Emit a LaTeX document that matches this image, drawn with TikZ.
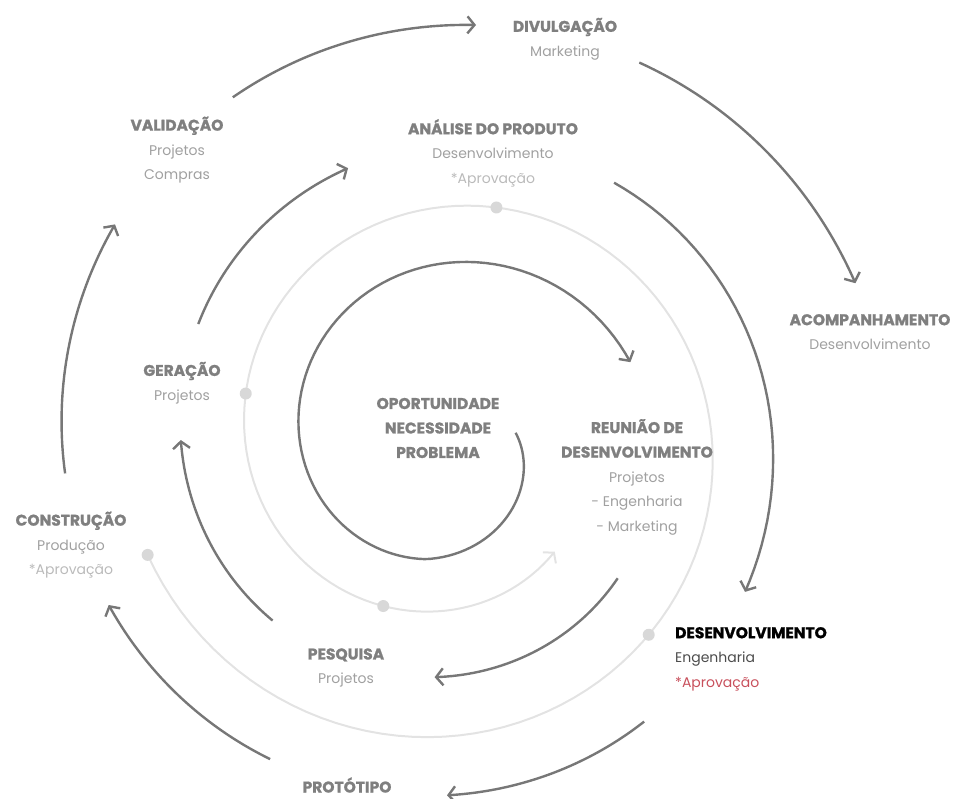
\documentclass[tikz,border=0pt]{standalone}
\usepackage{fontspec}
\setmainfont{Poppins}[BoldFeatures={FakeBold=1.2}]
\usepackage{xcolor}
\usetikzlibrary{arrows.meta}
\definecolor{stepgray}{HTML}{7F7F7F}
\definecolor{subgray}{HTML}{A0A0A0}
\definecolor{notegray}{HTML}{BABABA}
\definecolor{flowgray}{HTML}{777777}
\definecolor{backgray}{HTML}{E3E3E3}
\definecolor{dotgray}{HTML}{D8D8D8}
\definecolor{notered}{HTML}{C8505C}
\newcommand{\hd}[1]{{\fontsize{15.5}{24.5}\selectfont\bfseries\color{stepgray}#1}}
\newcommand{\nt}[1]{\textcolor{notegray}{#1}}

\begin{document}
\begin{tikzpicture}[
  x=1pt,y=-1pt,
  declare function={rd(\t)=88+0.33*\t; rl(\t)=265+0.35*\t;},
  stage/.style={align=center,font=\fontsize{14}{24.5}\selectfont,text=subgray,inner sep=0pt},
  flow/.style={draw=flowgray,line width=2.4pt,-{Straight Barb[length=7pt,width=17pt]}},
  back/.style={draw=backgray,line width=2pt,-{Straight Barb[length=7pt,width=17pt]}},
  dot/.style={fill=dotgray}
]
\useasboundingbox (0,0) rectangle (964,798);

% light feedback spiral with approval points
\draw[back] plot[domain=159:-314,samples=160] ({447+rl(\x)*cos(\x)},{440+rl(\x)*sin(\x)});
\foreach \t in {159,44,-78,-167,-249}
  \fill[dot] ({447+rl(\t)*cos(\t)},{440+rl(\t)*sin(\t)}) circle (6);

% main spiral, inner turn
\draw[flow] plot[domain=-6:337,samples=120]
  ({447+(rd(\x)-max(0,17*(100-\x)/106))*cos(\x)},{440+(rd(\x)-max(0,17*(100-\x)/106))*sin(\x)});
% main spiral, outer turns
\foreach \a/\b in {399/453,494/540,565/610,663/747,775/810,839/874,895/933,958/994,1017/1059}
  \draw[flow] plot[domain=\a:\b,samples=40] ({447+rd(\x)*cos(\x)},{440+rd(\x)*sin(\x)});

\node[stage] (oport) at (438,428) {\hd{OPORTUNIDADE}\\\hd{NECESSIDADE}\\\hd{PROBLEMA}};
\node[stage] (reuniao) at (637,477) {\hd{REUNIÃO DE}\\\hd{DESENVOLVIMENTO}\\Projetos\\- Engenharia\\- Marketing};
\node[stage] (pesquisa) at (346,668) {\hd{PESQUISA}\\Projetos};
\node[stage] (geracao) at (182,383) {\hd{GERAÇÃO}\\Projetos};
\node[stage] (analise) at (493,153) {\hd{ANÁLISE DO PRODUTO}\\Desenvolvimento\\\nt{*Aprovação}};
\node[stage,align=left,anchor=west] (desenv) at (675,659)
  {{\fontsize{15.5}{24.5}\selectfont\bfseries\color{black}DESENVOLVIMENTO}\\\textcolor{black!70}{Engenharia}\\\textcolor{notered}{*Aprovação}};
\node[stage] (prototipo) at (347,785) {\hd{PROTÓTIPO}};
\node[stage] (construcao) at (71,545) {\hd{CONSTRUÇÃO}\\Produção\\\nt{*Aprovação}};
\node[stage] (validacao) at (177,150) {\hd{VALIDAÇÃO}\\Projetos\\Compras};
\node[stage] (divulg) at (565,39) {\hd{DIVULGAÇÃO}\\Marketing};
\node[stage] (acomp) at (870,332) {\hd{ACOMPANHAMENTO}\\Desenvolvimento};
\end{tikzpicture}
\end{document}
